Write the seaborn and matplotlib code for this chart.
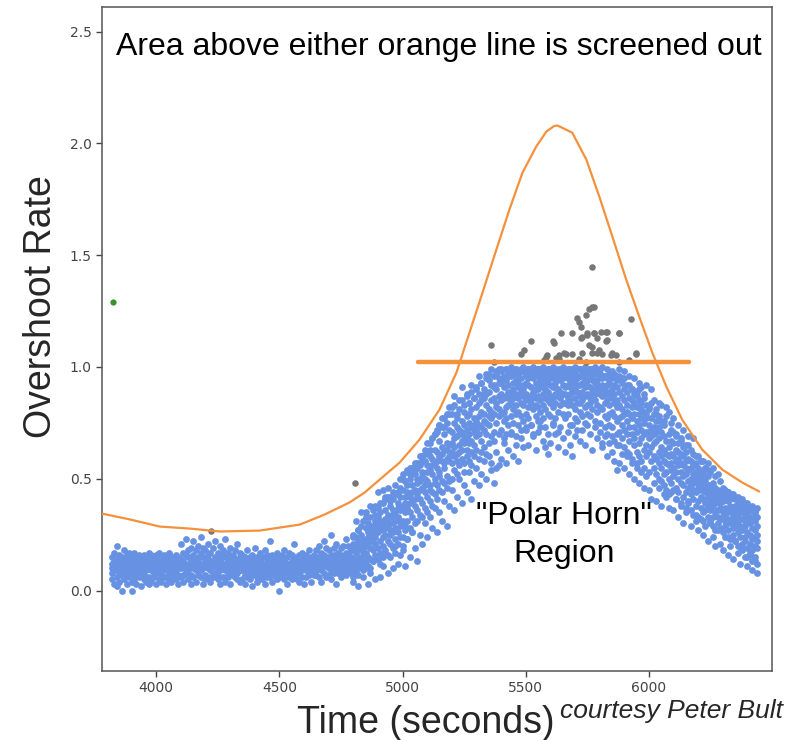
import numpy as np
import pandas as pd
import matplotlib
matplotlib.use("Agg")
import matplotlib.pyplot as plt
import seaborn as sns

# ---------------- data ----------------
# blue points: one column of readings every 10 s, rates in hundredths
blue_start, blue_step = 3820, 10
blue_rate_hundredths = [
    # 3820-4090
    [8,12,5,15,10],[11,3,17,9,13],[6,14,10,20,2],[13,8,16,4,11],[9,15,7,12,0],
    [14,5,10,18,8],[7,12,3,16,10],[10,17,6,13,9],[12,4,15,8,0],[5,11,14,9,17],
    [15,7,10,3,12],[9,13,6,16,11],[11,2,14,8,10],[7,16,12,5,13],[13,9,4,15,10],
    [10,6,17,11,3],[4,14,9,12,16],[12,8,15,6,10],[16,11,3,9,13],[8,13,10,17,5],
    [11,4,14,7,12],[14,10,6,16,9],[6,12,15,3,11],[10,17,8,13,5],[13,7,11,4,15],
    [9,15,12,6,10],[5,11,16,8,13],[12,3,10,15,7],
    # 4100-4340
    [10,14,6,21,12],[13,7,17,4,11],[8,16,11,23,9],[15,5,12,9,18],[11,19,7,14,3],
    [6,13,16,10,22],[14,9,4,18,12],[10,20,13,7,15],[17,6,11,24,9],[12,15,3,10,19],
    [7,13,18,11,5],[16,10,14,6,21],[9,17,12,4,13],[13,6,19,11,8],[11,15,8,22,14],
    [5,12,17,10,7],[14,9,13,20,3],[10,18,6,12,16],[12,4,15,9,23],[8,14,11,17,6],
    [15,10,3,13,19],[11,16,7,12,9],[6,13,18,10,14],[13,8,12,21,5],[10,15,9,4,17],
    # 4350-4640
    [9,13,5,16,11],[12,7,15,3,10],[14,10,18,8,6],[5,12,9,15,11],[11,16,7,13,2],
    [8,14,10,19,12],[13,6,11,4,15],[10,17,8,13,9],[7,12,15,5,11],[15,9,3,12,18],
    [11,14,8,16,6],[6,10,13,9,22],[12,4,16,11,8],[9,15,10,7,13],[14,8,12,17,5],
    [10,13,6,15,0],[7,11,16,9,12],[13,5,10,14,18],[11,15,8,3,12],[8,12,17,10,6],
    [16,9,13,5,11],[10,14,7,12,21],[5,12,15,9,13],[12,8,11,16,4],[9,17,6,13,10],
    [14,10,12,3,15],[11,6,16,9,13],[7,13,10,18,8],[13,9,4,15,11],[10,16,12,7,14],
    # 4650-4790
    [11,15,7,18,9],[14,6,12,20,10],[9,17,13,4,15],[12,8,16,22,11],[15,11,6,13,19],
    [10,18,14,7,12],[13,5,16,25,9],[8,14,11,19,16],[16,12,9,21,3],[11,17,14,8,13],
    [14,10,19,6,16],[12,20,8,15,11],[17,13,10,23,7],[9,16,14,12,20],[15,11,18,8,13],
    # 4800-4990
    [9,21,14,6,18,25],[12,24,8,17,20,13],[19,10,27,15,22,7],[14,25,18,11,29,21],
    [23,12,19,31,16,9],[17,28,13,22,35,20],[26,15,21,11,30,24],[19,33,24,14,27,10],
    [29,18,22,36,13,25],[21,31,16,27,38,24],[33,19,26,14,29,37],[22,35,28,17,31,12],
    [30,24,39,20,27,15],[25,36,18,32,41,28],[34,22,29,42,16,31],[27,38,33,21,42,25],
    [36,19,30,41,26,34],[28,43,35,23,31,17],[39,26,33,44,21,37],[31,42,24,36,46,29],
    # 5000-5190
    [38,24,45,31,52,20],[29,42,35,49,27,39],[44,31,53,37,23,47],[35,50,28,42,52,39],
    [47,33,40,55,26,44],[38,52,45,30,54,41],[50,36,43,57,31,48],[41,56,34,49,57,45],
    [53,39,46,60,33,51],[44,58,50,37,63,47],[56,42,49,35,62,53],[47,60,54,40,66,45],
    [59,44,52,68,38,56],[50,63,57,43,70,48],[62,47,55,71,41,58],[53,67,60,45,74,51],
    [64,49,58,73,44,61],[55,70,63,48,77,57],[66,51,59,75,46,63],[58,72,65,49,79,60],
    # 5200-5390
    [57,66,71,62,79,50],[68,54,75,60,64,83],[61,73,58,69,52,77],[72,65,81,56,70,62],
    [59,76,67,85,63,71],[74,57,69,80,66,53],[63,78,72,60,87,68],[70,84,58,75,66,79],
    [81,67,73,62,89,56],[65,77,86,71,60,74],[76,63,82,69,91,72],[88,70,59,78,74,84],
    [67,80,93,73,62,85],[79,72,86,64,90,76],[83,61,75,95,70,88],[74,89,66,81,97,78],
    [92,77,69,85,57,80],[71,86,96,79,91,67],[84,75,55,90,82,98],[78,93,87,70,99,81],
    # 5400-5650
    [85,72,93,79,99,88],[91,80,68,96,86,76],[77,94,87,99,82,70],[89,83,97,74,92,86],
    [96,78,88,71,99,84],[81,93,75,90,86,98],[88,99,83,69,94,79],[74,91,97,86,80,93],
    [95,84,78,99,89,72],[87,76,92,83,98,90],[79,96,88,73,93,85],[92,82,99,87,77,95],
    [86,99,74,91,84,97],[97,89,81,95,70,88],[83,93,99,78,90,86],[90,76,87,96,82,99],
    [99,85,92,80,94,73],[88,97,83,91,77,95],[93,81,98,86,64,90],[85,94,89,99,61,79],
    [96,87,78,92,99,84],[82,98,91,86,74,95],[91,84,99,77,93,88],[87,95,80,97,90,71],
    [94,89,99,83,86,96],[79,92,88,99,84,95],
    # 5660-5840
    [91,84,97,62,88,99],[86,95,79,92,99,83],[98,88,74,94,85,91],[83,93,99,60,89,96],
    [94,81,90,97,86,77],[89,99,84,92,72,95],[80,92,96,87,99,84],[96,85,78,93,89,99],
    [87,99,91,82,95,75],[92,83,97,88,79,94],[78,95,86,99,91,84],[99,89,81,94,86,97],
    [85,93,98,76,90,88],[94,80,89,97,83,92],[88,97,75,91,99,82],[81,92,87,66,95,89],
    [96,84,91,78,88,73],[89,77,95,85,70,92],[83,93,79,88,97,74],
    # 5850-6040
    [86,73,95,80,90,69],[78,92,84,67,88,97],[91,76,54,85,70,82],[83,96,71,89,77,65],
    [74,87,93,68,81,78],[90,79,64,85,72,95],[70,83,89,76,62,80],[86,73,67,92,79,61],
    [77,90,82,70,59,85],[65,79,88,73,84,68],[82,71,62,87,76,57],[74,85,79,66,90,60],
    [68,77,84,58,72,81],[80,63,70,86,55,75],[71,83,65,77,60,79],[62,74,81,68,53,71],
    [77,58,69,84,64,72],[66,79,55,73,60,70],[59,71,76,52,67,81],[73,62,68,57,78,50],
    # 6050-6240
    [64,55,71,49,60,76],[58,69,52,74,63,47],[67,53,61,78,57,45],[50,64,70,56,43,60],
    [61,48,57,67,72,54],[55,66,45,60,51,71],[46,58,63,53,69,41],[62,50,56,44,66,59],
    [53,61,39,57,48,68],[47,56,64,51,42,60],[58,44,52,62,37,55],[49,59,46,54,65,40],
    [43,55,50,36,58,47],[56,41,48,61,45,52],[38,50,57,44,53,34],[51,46,40,55,33,48],
    [45,53,37,49,58,42],[35,47,52,41,31,50],[49,39,44,55,36,46],[42,51,33,47,38,54],
    # 6250-6440
    [45,36,47,40,31,44],[38,46,33,48,42,29],[43,35,46,39,27,41],[30,41,45,36,44,33],
    [39,32,43,28,37,41],[42,35,26,40,33,44],[31,43,37,29,41,34],[36,27,40,44,32,24],
    [41,30,35,23,38,43],[28,36,42,33,25,31],[34,22,38,29,42,35],[26,37,31,40,20,33],
    [39,29,24,35,41,27],[32,21,36,27,18,38],[24,34,29,39,22,31],[35,26,19,32,37,15],
    [21,30,36,25,17,33],[28,18,33,23,37,13],[31,24,15,35,20,27],[19,29,25,12,33,22],
]

# outer scatter of the same blue readings (low, high) for the columns from 4800 s on
blue_outer_start = 4800
blue_outer_hundredths = [
    [4,24],[9,31],[2,27],[12,35],[6,22],[10,33],[3,29],[8,38],[13,26],[5,34],
    [14,44],[6,39],[11,45],[17,42],[8,46],[15,40],[10,44],[20,47],[12,43],[16,50],
    [18,50],[11,49],[23,54],[15,55],[26,52],[19,57],[13,55],[25,60],[21,58],[30,61],
    [24,66],[33,63],[28,68],[37,70],[26,72],[35,74],[31,77],[40,73],[29,79],[38,82],
    [45,82],[36,87],[42,79],[50,85],[39,91],[47,83],[44,88],[53,84],[41,92],[49,86],
    [55,90],[47,96],[52,93],[58,88],[50,97],[60,94],[54,99],[48,92],[62,97],[56,95],
    [59,98],[66,94],[57,99],[63,96],[70,100],[60,97],[65,99],[58,95],[68,98],[64,100],
    [72,97],[65,99],[74,96],[69,100],[63,98],[71,99],[76,97],[67,100],[73,96],[70,99],
    [66,98],[75,100],[70,96],[64,99],[73,97],[68,100],[77,98],[71,95],[65,99],[74,97],
    [69,100],[76,96],[67,99],[72,98],[65,100],[74,97],[70,99],[63,96],[73,100],[68,98],
    [71,97],[64,100],[69,96],[60,99],[66,95],[62,98],[58,97],[65,94],[57,99],[61,95],
    [55,98],[60,92],[52,96],[57,90],[50,95],[55,89],[48,93],[53,91],[46,88],[51,92],
    [45,82],[41,90],[48,85],[40,79],[46,84],[38,83],[43,76],[42,82],[37,80],[44,75],
    [36,77],[41,70],[33,74],[38,67],[30,72],[35,65],[39,69],[29,63],[34,68],[31,60],
    [27,60],[32,58],[25,58],[29,55],[22,57],[30,53],[24,55],[20,51],[27,52],[21,49],
    [18,46],[24,45],[16,44],[20,43],[14,43],[22,41],[17,42],[12,40],[19,41],[15,38],
    [11,39],[16,36],[9,38],[13,35],[8,37],
]

# grey points: screened out
grey_time = [4222, 4806, 5361, 5373, 5483, 5495, 5523, 5576, 5584, 5588, 5610, 5617,
             5625, 5637, 5637, 5645, 5657, 5665, 5690, 5690, 5710, 5718, 5718, 5726,
             5726, 5730, 5730, 5746, 5746, 5750, 5750, 5758, 5758, 5770, 5770, 5770,
             5770, 5779, 5779, 5779, 5791, 5791, 5799, 5807, 5811, 5827, 5827, 5831,
             5831, 5848, 5852, 5868, 5880, 5880, 5880, 5920, 5928, 5949, 5949]
grey_rate = [0.268, 0.483, 1.10, 1.024, 1.06, 1.078, 1.118, 1.033, 1.046, 1.055, 1.118, 1.105,
             1.042, 1.055, 1.037, 1.154, 1.064, 1.06, 1.154, 1.06, 1.221, 1.199, 1.037, 1.18,
             1.131, 1.136, 1.064, 1.234, 1.024, 1.145, 1.154, 1.257, 1.10, 1.266, 1.087, 1.064,
             1.445, 1.27, 1.154, 1.154, 1.131, 1.064, 1.078, 1.158, 1.06, 1.158, 1.114, 1.122,
             1.158, 1.055, 1.064, 1.055, 1.154, 1.154, 1.024, 1.033, 1.216, 1.06, 1.064]

green_time = [3825]
green_rate = [1.29]

# screening curve
curve_time = [3780, 3893, 4015, 4137, 4258, 4420, 4583, 4684, 4785, 4846, 4907, 4988,
              5069, 5150, 5219, 5272, 5325, 5381, 5434, 5487, 5543, 5584, 5616, 5629,
              5689, 5746, 5799, 5852, 5908, 5961, 6014, 6071, 6135, 6216, 6298, 6379, 6448]
curve_rate = [0.344, 0.318, 0.286, 0.277, 0.264, 0.268, 0.295, 0.340, 0.394, 0.438, 0.496, 0.572,
              0.675, 0.809, 0.975, 1.154, 1.333, 1.525, 1.704, 1.869, 1.986, 2.053, 2.078, 2.080,
              2.048, 1.928, 1.762, 1.583, 1.391, 1.225, 1.064, 0.912, 0.765, 0.631, 0.541, 0.483, 0.443]

# flat screening line
flat_time = [5061, 6164]
flat_rate = [1.024, 1.024]

title_text = "Area above either orange line is screened out"
region_text = '"Polar Horn"\nRegion'
xlabel_text = "Time (seconds)"
ylabel_text = "Overshoot Rate"
credit_text = "courtesy Peter Bult"

# ---------------- build frames ----------------
bt, br = [], []
for i, col in enumerate(blue_rate_hundredths):
    t = blue_start + i * blue_step
    for v in col:
        bt.append(t)
        br.append(v / 100.0)
for i, col in enumerate(blue_outer_hundredths):
    t = blue_outer_start + i * blue_step
    for v in col:
        bt.append(t)
        br.append(v / 100.0)
blue_df = pd.DataFrame({"time": bt, "rate": br})
grey_df = pd.DataFrame({"time": grey_time, "rate": grey_rate})
green_df = pd.DataFrame({"time": green_time, "rate": green_rate})
curve_df = pd.DataFrame({"time": curve_time, "rate": curve_rate})
flat_df = pd.DataFrame({"time": flat_time, "rate": flat_rate})

# ---------------- plot ----------------
sns.set_style("ticks")
plt.rcParams["font.family"] = ["DejaVu Sans"]

fig = plt.figure(figsize=(7.87, 7.40), dpi=100)
ax = fig.add_axes([102/787, 1-671/740, (772-102)/787, (671-7)/740])

BLUE = "#6792e3"
GREY = "#777777"
ORANGE = "#f4913c"

sns.scatterplot(data=blue_df, x="time", y="rate", color=BLUE, s=24, linewidth=0, ax=ax, zorder=2)
sns.scatterplot(data=grey_df, x="time", y="rate", color=GREY, s=22, linewidth=0, ax=ax, zorder=3)
sns.scatterplot(data=green_df, x="time", y="rate", color="#3a8f2e", s=20, linewidth=0, ax=ax, zorder=3)
sns.lineplot(data=curve_df, x="time", y="rate", color=ORANGE, lw=1.6, sort=False,
             estimator=None, ax=ax, zorder=4)
sns.lineplot(data=flat_df, x="time", y="rate", color=ORANGE, lw=3.2, sort=False,
             estimator=None, ax=ax, zorder=5)

ax.set_xlim(3780, 6500)
ax.set_ylim(-0.36, 2.61)
ax.set_xticks([4000, 4500, 5000, 5500, 6000])
ax.set_yticks([0.0, 0.5, 1.0, 1.5, 2.0, 2.5])
ax.set_yticklabels(["0.0", "0.5", "1.0", "1.5", "2.0", "2.5"])
ax.set_xlabel("")
ax.set_ylabel("")
ax.tick_params(labelsize=10, colors="#444444", length=4, width=1)
for sp in ax.spines.values():
    sp.set_visible(True)
    sp.set_color("#555555")
    sp.set_linewidth(1.1)

big = ["Liberation Sans", "DejaVu Sans"]
ax.text(0.502, 0.940, title_text, transform=ax.transAxes, ha="center", va="center",
        fontsize=23, family=big, color="black")
ax.text(5657, 0.249, region_text, ha="center", va="center", fontsize=23, family=big,
        linespacing=1.32, color="black")
fig.text(426/787, 1-733/740, xlabel_text, ha="center", va="baseline", fontsize=27, family=big)
fig.text(560/787, 1-718/740, credit_text, ha="left", va="baseline", fontsize=19,
         family=big, style="italic")
fig.text(41/787, 1-307/740, ylabel_text, ha="center", va="center", rotation=90,
         fontsize=27, family=big)

fig.savefig("out.png", dpi=100)
